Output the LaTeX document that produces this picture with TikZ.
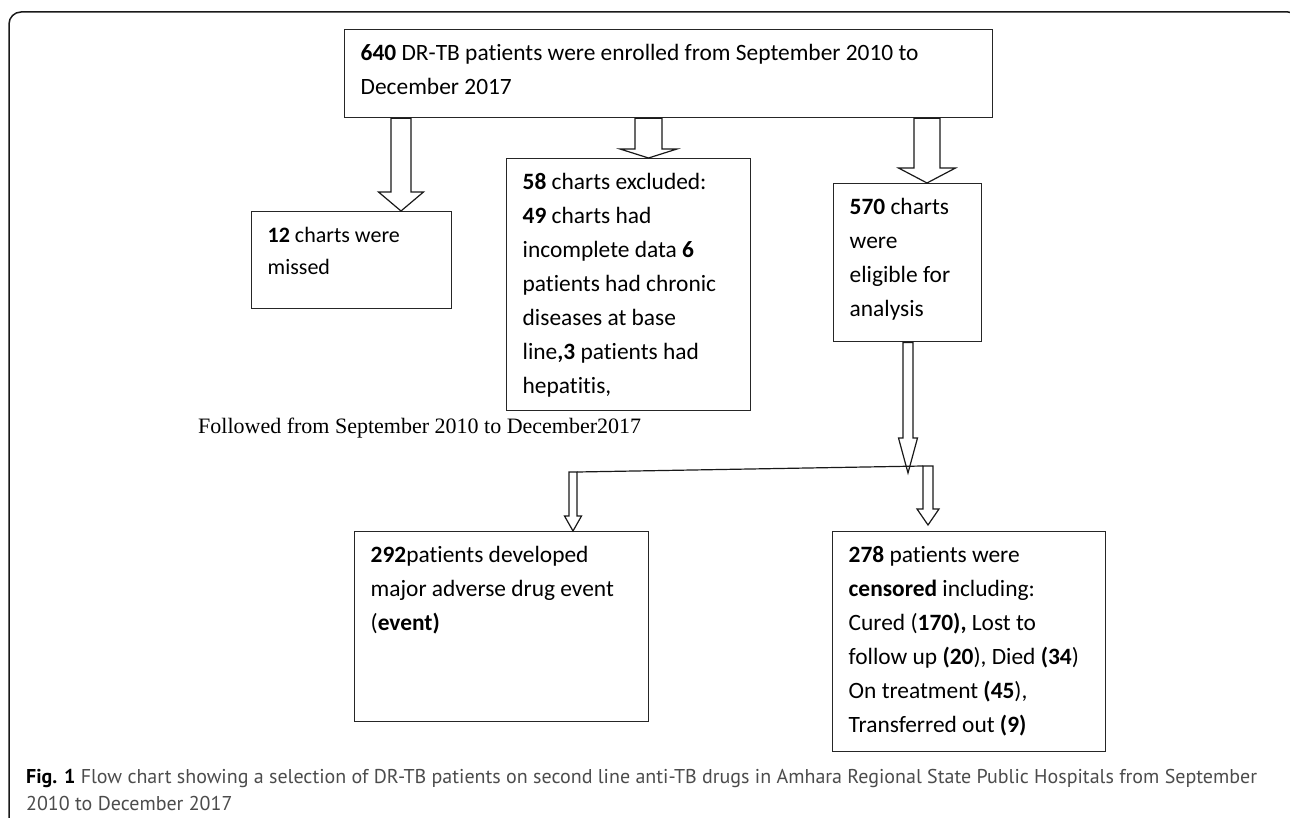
\documentclass[tikz,border=0pt]{standalone}
\usepackage{fontspec}
\setmainfont{Carlito}[Ligatures=NoCommon]
\newfontfamily\serifft{Liberation Serif}
\newfontfamily\capfont{PT Sans}
\usetikzlibrary{calc}
\newcommand\bxt[5]{\parbox[b][#2pt][t]{#1pt}{\fontsize{#5}{#3pt}\selectfont\rule{0pt}{31pt}#4}}
\newcommand\blockarr[6]{%
  \draw[barrow] (#1-#4,0 |- #2) -- ($(#1-#4,0 |- #3)+(0,-#6)$) -- ($(#1-#5,0 |- #3)+(0,-#6)$)
   -- (#1,0 |- #3) -- ($(#1+#5,0 |- #3)+(0,-#6)$) -- ($(#1+#4,0 |- #3)+(0,-#6)$) -- (#1+#4,0 |- #2) -- cycle;}
\tikzset{
  box/.style={draw=black!85, line width=1.4pt, anchor=north west, inner xsep=16pt, inner ysep=0pt},
  barrow/.style={draw=black!90, fill=white, line width=1.2pt, line join=miter},
  frame/.style={draw=black!90, line width=1.5pt},
}
\begin{document}
\begin{tikzpicture}[x=1pt,y=-1pt]
\useasboundingbox (0,0) rectangle (1290,818);
\clip (0,0) rectangle (1290,818);
\fill[white] (0,0) rectangle (1290,818);
\draw[frame, rounded corners=12pt] (9,860) -- (9,12) -- (1300,12) -- (1300,860);

\node[box] (top) at (344,29) {\bxt{616}{88}{34}{\mbox{\textbf{640} DR-TB patients were enrolled from September 2010 to}\\\mbox{December 2017}}{23.4}};
\node[box] (b12) at (251,211) {\bxt{168}{97}{31.5}{\mbox{\textbf{12} charts were}\\\mbox{missed}}{22}};
\node[box] (b58) at (506,158) {\bxt{212}{252}{34}{\mbox{\textbf{58} charts excluded:}\\\mbox{\textbf{49} charts had}\\\mbox{incomplete data \textbf{6}}\\\mbox{patients had chronic}\\\mbox{diseases at base}\\\mbox{line\textbf{,3} patients had}\\\mbox{hepatitis,}}{23.4}};
\node[box] (b570) at (833,183) {\bxt{116}{158}{34}{\mbox{\textbf{570} charts}\\\mbox{were}\\\mbox{eligible for}\\\mbox{analysis}}{23.4}};
\node[box] (b292) at (354,531) {\bxt{262}{190}{34}{\mbox{\textbf{292}patients developed}\\\mbox{major adverse drug event}\\\mbox{(\textbf{event)}}}{23.4}};
\node[box] (b278) at (832,531) {\bxt{241}{220}{34}{\mbox{\textbf{278} patients were}\\\mbox{\textbf{censored} including:}\\\mbox{Cured (\textbf{170),} Lost to}\\\mbox{follow up \textbf{(20}), Died \textbf{(34})}\\\mbox{On treatment \textbf{(45}),}\\\mbox{Transferred out \textbf{(9)}}}{23.4}};

\node[anchor=base west, inner sep=0pt, font=\serifft\fontsize{22}{26}\selectfont] (fol) at (198,433) {Followed from September 2010 to December2017};

% junction coordinates
\coordinate (j570) at (908,473);
\coordinate (j292) at (573,472);
\coordinate (j278) at (928,466);
\coordinate (t278) at (928,525);

\blockarr{401}{top.south}{b12.north}{10}{22.5}{19}
\blockarr{648.5}{top.south}{b58.north}{13.5}{28.5}{9}
\blockarr{927}{top.south}{b570.north}{13}{28.5}{15}
\blockarr{908}{b570.south}{j570}{5}{9.5}{35}
\draw[line width=1.2pt, black!90] ($(j292)+(4,0)$) -- ($(j278)+(-5,0)$);
\blockarr{573}{j292}{b292.north}{4}{8.5}{15}
\blockarr{928}{j278}{t278}{5}{11}{16}

\node[anchor=base west, inner sep=0pt, font=\capfont\fontsize{20}{27}\selectfont, text=black!70] (cap1) at (26,783) {\textcolor{black}{\textbf{Fig. 1}} Flow chart showing a selection of DR-TB patients on second line anti-TB drugs in Amhara Regional State Public Hospitals from September};
\node[anchor=base west, inner sep=0pt, font=\capfont\fontsize{20}{27}\selectfont, text=black!70] (cap2) at (26,810) {2010 to December 2017};
\end{tikzpicture}
\end{document}
